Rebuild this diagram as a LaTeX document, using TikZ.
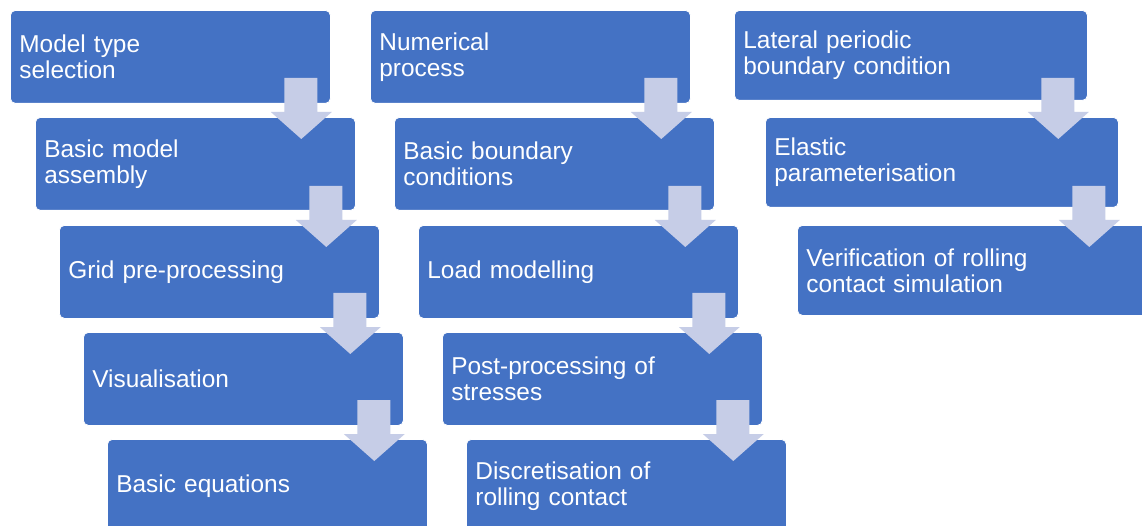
\documentclass[tikz,border=0pt]{standalone}
\usepackage{fontspec}
\setmainfont{Liberation Sans}
\usepackage{xcolor}
\usetikzlibrary{positioning,calc}

\definecolor{boxblue}{HTML}{4472C4}
\definecolor{arrowlav}{HTML}{C6CDE7}

% block arrow from the upper box #1 down into the lower box #2
\newcommand{\flowdown}[2]{%
  \fill[flowarrow] let \p1=(#1.east), \p2=(#2.north) in
    (\x1-46.5,\y2+39) -- (\x1-13.5,\y2+39) -- (\x1-13.5,\y2+5) -- (\x1+1,\y2+5)
    -- (\x1-29.5,\y2-22) -- (\x1-60,\y2+5) -- (\x1-46.5,\y2+5) -- cycle;}

\begin{document}
\begin{tikzpicture}[
  x=1pt, y=1pt,
  stage/.style={rectangle, rounded corners=5pt, fill=boxblue, draw=white,
    line width=0.8pt, anchor=north west, text=white, align=left,
    inner xsep=9pt, inner ysep=0pt, text width=302pt, minimum height=93pt,
    font=\fontsize{24.4}{26}\selectfont},
  widestage/.style={stage, text width=335pt, minimum height=90pt},
  flowarrow/.style={fill=arrowlav},
]
\fill[white] (0,0) rectangle (1142,-526);
\clip (0,0) rectangle (1142,-526);

% Column 1
\node[stage] (model)     at (10,-10)  {Model type\\selection};
\node[stage] (assembly)  at (35,-117) {Basic model\\assembly};
\node[stage] (grid)      at (59,-225) {Grid pre-processing};
\node[stage] (visual)    at (83,-332) {Visualisation};
\node[stage] (equations) at (107,-439) {Basic equations};

% Column 2
\node[stage] (numproc)   at (370,-10)  {Numerical\\process};
\node[stage] (basicbc)   at (394,-117) {Basic boundary\\conditions};
\node[stage] (load)      at (418,-225) {Load modelling};
\node[stage] (post)      at (442,-332) {Post-processing of\\stresses};
\node[stage] (discr)     at (466,-439) {Discretisation of\\rolling contact};

% Column 3
\node[widestage] (lateral) at (734,-10)  {Lateral periodic\\boundary condition};
\node[widestage] (elastic) at (765,-117) {Elastic\\parameterisation};
\node[widestage] (verif)   at (797,-225) {Verification of rolling\\contact simulation};

% Arrows
\flowdown{model}{assembly}
\flowdown{assembly}{grid}
\flowdown{grid}{visual}
\flowdown{visual}{equations}
\flowdown{numproc}{basicbc}
\flowdown{basicbc}{load}
\flowdown{load}{post}
\flowdown{post}{discr}
\flowdown{lateral}{elastic}
\flowdown{elastic}{verif}

\end{tikzpicture}
\end{document}
